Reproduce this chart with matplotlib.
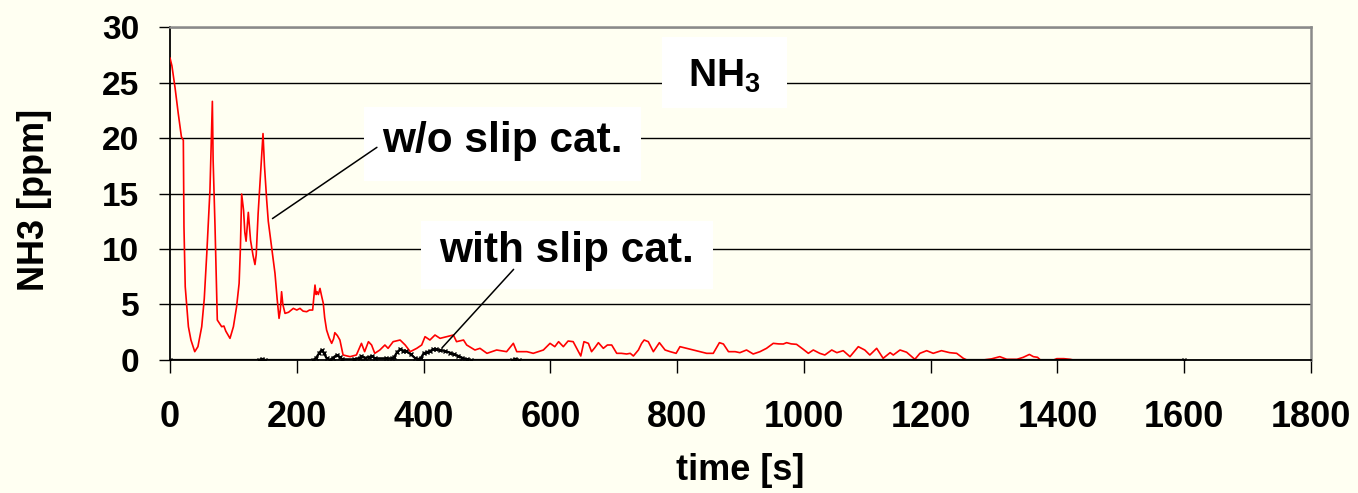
import matplotlib
matplotlib.use("Agg")
import matplotlib.pyplot as plt
from matplotlib.patches import Rectangle

# NH3 slip, red = without slip catalyst, black = with slip catalyst
red_t_start = [0, 3, 8, 13, 18, 21, 22, 24, 29, 33, 39, 44, 50, 54, 58, 63, 66.8, 68, 71,
               74.6, 78, 81.5, 85, 88, 94.6, 100, 105, 109, 111, 113, 116, 118, 120, 123.5,
               127, 131, 134, 136, 139, 143, 146.7, 149, 152.5, 155, 158.8, 162, 165.6, 169,
               172, 174, 176, 178, 181.4, 187, 194.5, 200, 205, 210, 215.6, 220, 225, 228.7,
               230.5, 232, 234, 236.6, 239, 241.8, 244, 247, 251, 255, 258, 260, 264, 268,
               271, 273]
red_v_start = [27.2, 26.5, 24.5, 22.2, 20.1, 19.8, 12, 6.6, 3.0, 1.8, 0.75, 1.2, 3.0, 5.5,
               9.6, 15.3, 23.3, 18, 12, 3.6, 3.3, 3.0, 3.06, 2.6, 1.95, 3.0, 4.8, 6.9, 10,
               14.95, 13.5, 11.5, 10.7, 13.3, 10.8, 9.4, 8.6, 9.5, 13.2, 17, 20.4, 17.5, 14.4,
               12.5, 10.8, 9.3, 7.8, 5.5, 3.75, 4.5, 6.15, 5.0, 4.2, 4.3, 4.65, 4.5, 4.65, 4.4,
               4.35, 4.5, 4.5, 6.75, 5.9, 6.15, 5.9, 6.45, 5.8, 5.1, 3.8, 2.7, 2.0, 1.5, 1.9,
               2.46, 2.2, 1.8, 1.0, 0.45]

red_t_mid = [280, 284, 294, 302, 307, 313, 318, 323, 331, 339, 344, 352, 363, 371, 379,
             389.2, 397, 402.3, 410, 418, 426, 436.5, 447, 452, 463, 468, 481, 489, 500,
             515.3, 531, 541.6, 547, 563, 573, 589, 599.5, 607, 613, 620.5, 628]
red_v_mid = [0.35, 0.3, 0.45, 1.5, 0.75, 1.65, 1.35, 0.6, 0.9, 1.35, 1.05, 1.65, 1.8, 1.35,
             0.75, 1.05, 1.35, 2.1, 1.8, 2.25, 1.95, 2.1, 2.25, 1.65, 1.8, 1.35, 0.9, 1.05,
             0.6, 0.9, 0.75, 1.5, 0.75, 0.75, 0.6, 0.9, 1.5, 1.2, 1.65, 1.2, 1.71]

red_t_end = [636, 643, 648, 653, 660, 665, 670, 675.8, 683.6, 690, 696.8, 704.7, 712, 720.4,
             726, 731, 738.9, 744, 748, 754.5, 762.5, 772, 781, 789, 798.4, 804.5, 815, 825.5,
             836, 846.6, 857, 866.7, 873, 881, 891.5, 899, 909.5, 920, 930.7, 941, 951.7, 960,
             967.5, 972.7, 980, 988.4, 999, 1007, 1014.8, 1025, 1033, 1043.9, 1052, 1062,
             1072.7, 1085.8, 1096, 1104, 1114.8, 1125, 1136, 1141, 1151.6, 1162, 1170, 1175,
             1183, 1193.7, 1204, 1217, 1230, 1241, 1251.5, 1257, 1283, 1296, 1309, 1320, 1336,
             1346, 1355.7, 1362, 1368.6, 1373, 1394, 1399, 1410, 1420, 1425, 1600]
red_v_end = [1.65, 0.9, 0.36, 1.65, 1.5, 0.75, 1.1, 1.56, 1.05, 1.35, 1.35, 0.6, 0.6, 0.54,
             0.6, 0.36, 0.9, 1.5, 1.8, 1.65, 0.75, 1.56, 0.9, 0.75, 0.6, 1.2, 1.05, 0.9, 0.75,
             0.6, 0.6, 1.56, 1.44, 0.75, 0.75, 0.66, 0.9, 0.54, 0.75, 1.05, 1.5, 1.45, 1.44,
             1.56, 1.45, 1.41, 0.96, 0.6, 0.9, 0.6, 0.45, 0.9, 0.66, 0.84, 0.3, 1.2, 0.9, 0.45,
             1.05, 0.15, 0.66, 0.45, 0.9, 0.7, 0.3, 0.06, 0.6, 0.84, 0.6, 0.84, 0.66, 0.6, 0.15,
             0, 0, 0.1, 0.3, 0.06, 0.06, 0.24, 0.5, 0.3, 0.24, 0, 0, 0.12, 0.12, 0.06, 0, 0]

blk_t = [0, 140, 145, 150, 225, 230, 235, 239, 243, 247, 252, 257, 263, 268, 272, 290, 300,
         302, 308, 314, 318, 323, 340, 350, 354, 358, 363, 368, 373, 380, 386, 391, 396, 400,
         405, 410, 415, 420, 426, 434, 441.6, 448, 455, 461, 468, 475, 540, 545, 550, 1600]
blk_v = [0, 0, 0.1, 0, 0, 0.15, 0.6, 0.9, 0.6, 0.15, 0, 0.2, 0.45, 0.25, 0.06, 0.06, 0.2,
         0.36, 0.2, 0.25, 0.36, 0.15, 0.15, 0.15, 0.3, 0.7, 0.96, 0.85, 0.8, 0.5, 0.2, 0.06,
         0.2, 0.6, 0.7, 0.8, 0.96, 0.95, 0.9, 0.8, 0.66, 0.5, 0.36, 0.2, 0.06, 0, 0, 0.1, 0, 0]

x_ticks = [0, 200, 400, 600, 800, 1000, 1200, 1400, 1600, 1800]
y_ticks = [0, 5, 10, 15, 20, 25, 30]

red_t = red_t_start + red_t_mid + red_t_end
red_v = red_v_start + red_v_mid + red_v_end

bg = "#FFFFF2"
plt.rcParams["font.family"] = ["Liberation Sans", "DejaVu Sans"]
plt.rcParams["font.weight"] = "bold"
plt.rcParams["mathtext.fontset"] = "custom"
plt.rcParams["mathtext.rm"] = "Liberation Sans:bold"
plt.rcParams["mathtext.bf"] = "Liberation Sans:bold"

fig = plt.figure(figsize=(13.58, 4.93), dpi=100, facecolor=bg)
ax = fig.add_axes([0.1252, 0.2698, 0.8402, 0.6754], facecolor=bg)

ax.plot(red_t, red_v, color="#FF0000", lw=1.2, zorder=3)
ax.plot(blk_t, blk_v, color="black", lw=1.6, marker="x", ms=2.5, mew=1.0, zorder=3)

ax.set_xlim(0, 1800)
ax.set_ylim(0, 30)
ax.set_xticks(x_ticks)
ax.set_yticks(y_ticks)
ax.tick_params(axis="x", direction="out", length=9, width=1, labelsize=26, pad=20)
ax.tick_params(axis="y", direction="out", length=8, width=1, labelsize=24, pad=14)
for lab in ax.get_xticklabels() + ax.get_yticklabels():
    lab.set_fontweight("bold")

ax.yaxis.grid(True, color="black", lw=1)
ax.set_axisbelow(True)
for s in ("left", "bottom"):
    ax.spines[s].set_color("black")
    ax.spines[s].set_linewidth(1.3)
for s in ("top", "right"):
    ax.spines[s].set_color("#8A8A8A")
    ax.spines[s].set_linewidth(1.8)

ax.set_xlabel("time [s]", fontsize=26, fontweight="bold")
ax.set_ylabel("NH3 [ppm]", fontsize=26, fontweight="bold")
ax.xaxis.set_label_coords(0.5, -0.28)
ax.yaxis.set_label_coords(-0.103, 0.48)

# white label boxes (x0, x1, y0, y1 in axis units)
boxes = [(776, 973, 22.7, 29.1), (306, 743, 16.1, 22.8), (396, 857, 6.4, 12.5)]
for x0, x1, y0, y1 in boxes:
    ax.add_patch(Rectangle((x0, y0), x1 - x0, y1 - y0, fc="white", ec="none", zorder=4))

ax.text(524, 19.75, "w/o slip cat.", fontsize=30.5, fontweight="bold",
        ha="center", va="center", zorder=5)
ax.text(626, 9.8, "with slip cat.", fontsize=30.5, fontweight="bold",
        ha="center", va="center", zorder=5)
ax.text(874, 25.6, r"NH$_3$", fontsize=28, fontweight="bold",
        ha="center", va="center", zorder=5)

ax.annotate("", xy=(158, 12.6), xytext=(330, 19.3),
            arrowprops=dict(arrowstyle="-", color="black", lw=1.1), zorder=6)
ax.annotate("", xy=(426, 0.9), xytext=(545, 8.35),
            arrowprops=dict(arrowstyle="-", color="black", lw=1.1), zorder=6)

fig.savefig("out.png", dpi=100, facecolor=bg)
